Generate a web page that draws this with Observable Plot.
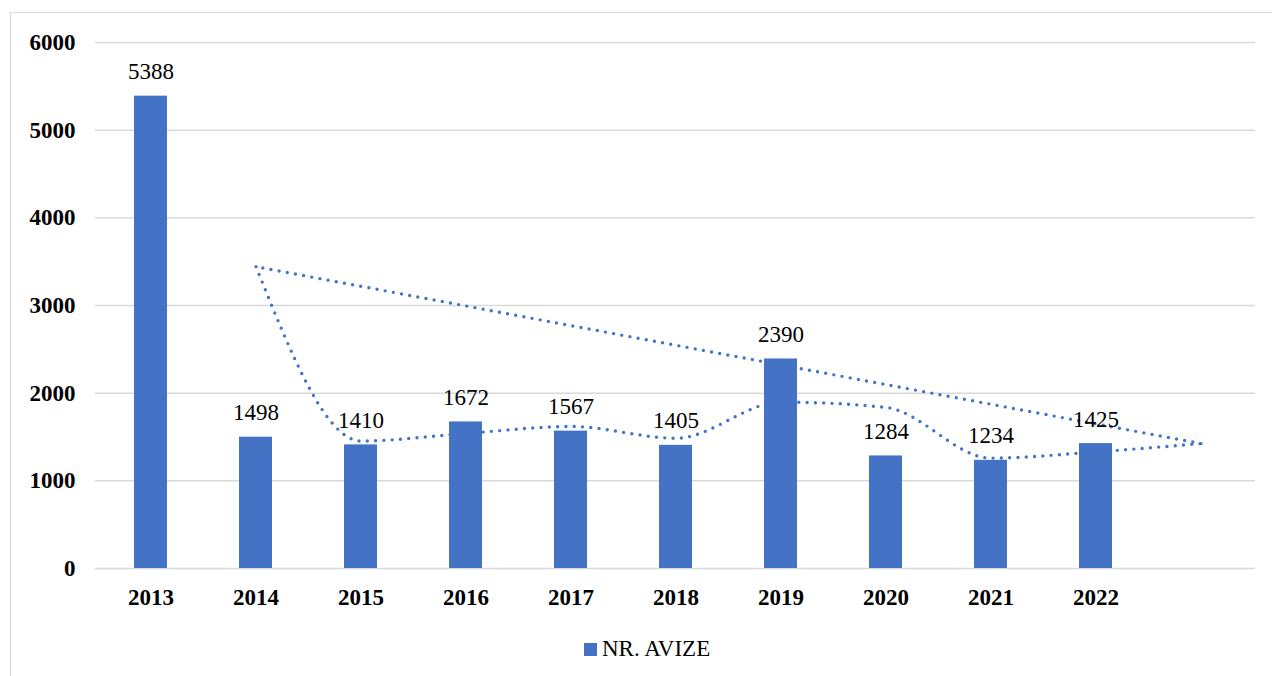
<!DOCTYPE html>
<html>
<head>
<meta charset="utf-8">
<script src="https://cdn.jsdelivr.net/npm/d3@7"></script>
<script src="https://cdn.jsdelivr.net/npm/@observablehq/plot@0.6"></script>
<style>
  html, body { margin: 0; padding: 0; background: #fff; overflow: hidden; }
  #wrap { position: relative; width: 1272px; height: 676px; font-family: "Liberation Serif", "Times New Roman", serif; }
  #frame { position: absolute; left: 10px; top: 12px; width: 1280px; height: 700px; border: 1.5px solid #d9d9d9; box-sizing: border-box; }
  #chart { position: absolute; left: 0; top: 0; }
  #legend { position: absolute; left: 584px; top: 636px; height: 26px; line-height: 26px; font-size: 23px; color: #000; white-space: nowrap; }
  #legend .sw { position: absolute; left: 0; top: 7px; width: 13px; height: 13px; background: #4472C4; }
  #legend .lb { position: absolute; left: 18px; top: 0; }
</style>
</head>
<body>
<div id="wrap">
  <div id="frame"></div>
  <div id="chart"></div>
  <div id="legend"><span class="sw"></span><span class="lb">NR. AVIZE</span></div>
</div>
<script>
const years = ["2013", "2014", "2015", "2016", "2017", "2018", "2019", "2020", "2021", "2022"];
const avize = [5388, 1498, 1410, 1672, 1567, 1405, 2390, 1284, 1234, 1425];
const extraSlot = "next";
// dotted trend line, smoothed part (2014 -> extra slot)
const trendX = ["2014", "2015", "2016", "2017", "2018", "2019", "2020", "2021", "2022", "next"];
const trendY = [3443, 1454, 1541, 1620, 1486, 1898, 1837, 1259, 1330, 1425];
const yTicks = [0, 1000, 2000, 3000, 4000, 5000, 6000];

const bars = years.map((y, i) => ({year: y, value: avize[i]}));
const trend = trendX.map((x, i) => ({x, y: trendY[i]}));
// straight closing segment from the extra slot back to 2014
const closing = [trend[trend.length - 1], trend[0]];

const blue = "#4472C4";
const dotted = {stroke: blue, strokeWidth: 3.4, strokeDasharray: "0 8.3", strokeLinecap: "round"};

const chart = Plot.plot({
  width: 1272,
  height: 620,
  marginLeft: 95,
  marginRight: 17,
  marginTop: 42,
  marginBottom: 52,
  style: {fontFamily: "'Liberation Serif', 'Times New Roman', serif", fontSize: "23px", color: "#000", background: "transparent"},
  x: {type: "band", domain: [...years, extraSlot], paddingInner: 0.69, paddingOuter: 0.345, label: null, axis: null},
  y: {domain: [0, 6000], label: null, axis: null},
  marks: [
    Plot.ruleY(yTicks, {stroke: "#d9d9d9", strokeWidth: 1.5}),
    Plot.barY(bars, {x: "year", y: "value", fill: blue}),
    Plot.line(trend, {x: "x", y: "y", ...dotted, curve: "monotone-x"}),
    Plot.line(closing, {x: "x", y: "y", ...dotted, curve: "linear"}),
    Plot.text(bars, {x: "year", y: "value", text: d => String(d.value), dy: -17, lineAnchor: "bottom", fill: "#000", fontSize: 23}),
    Plot.axisY(yTicks, {tickSize: 0, tickPadding: 20, fontWeight: "bold", fontSize: 23, tickFormat: d => String(d), label: null}),
    Plot.axisX(years, {tickSize: 0, tickPadding: 20, fontWeight: "bold", fontSize: 23, label: null})
  ]
});
document.getElementById("chart").appendChild(chart);
</script>
</body>
</html>
